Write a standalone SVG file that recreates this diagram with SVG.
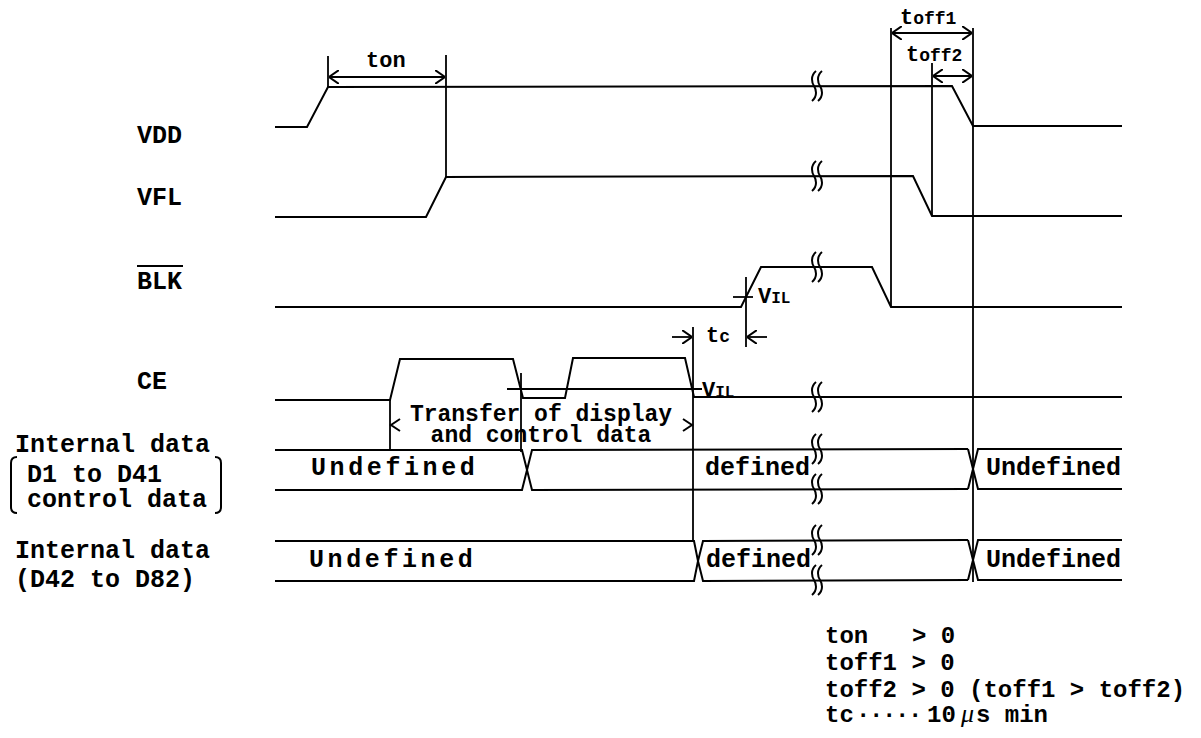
<svg xmlns="http://www.w3.org/2000/svg" width="1201" height="738" viewBox="0 0 1201 738">
<style>
.s{fill:none;stroke:#000;stroke-width:2;stroke-linejoin:miter}
.v{fill:none;stroke:#000;stroke-width:1.8}
.t{font-family:"Liberation Mono",monospace;font-weight:bold;font-size:25px;fill:#000}
.n{font-family:"Liberation Mono",monospace;font-weight:bold;font-size:24px;fill:#000}
.m{font-family:"Liberation Mono",monospace;font-weight:bold;font-size:23px;fill:#000}
.lb{font-family:"Liberation Mono",monospace;font-weight:bold;fill:#000}
</style>
<defs>
<marker id="ah" viewBox="0 0 10 14" refX="10" refY="7" markerWidth="10" markerHeight="14" markerUnits="userSpaceOnUse" orient="auto-start-reverse">
<path d="M0,0 L10,7 L0,14" fill="none" stroke="#000" stroke-width="2"/>
</marker>
<path id="brk" d="M-1,-15 C-7,-10 -5,-3 -3,0 C-1,3 1,10 -5,15 M5,-15 C-1,-10 1,-3 3,0 C5,3 7,10 1,15" fill="none" stroke="#000" stroke-width="2"/>
</defs>
<rect width="1201" height="738" fill="#fff"/>

<g id="labels">
<text class="t" x="137" y="143">VDD</text>
<text class="t" x="137" y="205">VFL</text>
<text class="t" x="137" y="289">BLK</text>
<line x1="137" y1="266" x2="183" y2="266" stroke="#000" stroke-width="2"/>
<text class="t" x="137" y="389">CE</text>
<text class="t" x="15" y="452">Internal data</text>
<text class="t" x="27" y="482">D1 to D41</text>
<text class="t" x="27" y="507">control data</text>
<path class="s" d="M17,457 Q11,457 11,463 L11,507 Q11,513 17,513"/>
<path class="s" d="M215,457 Q221,457 221,463 L221,507 Q221,513 215,513"/>
<text class="t" x="15" y="558">Internal data</text>
<text class="t" x="15" y="587">(D42 to D82)</text>
</g>

<g id="vdd">
<polyline class="s" points="275,127 307,127 328,87 952,86 973,126 1122,126"/>
<use href="#brk" x="817" y="86"/>
</g>

<g id="vfl">
<polyline class="s" points="275,217 426,217 446,177 913,176 932,216 1122,216"/>
<use href="#brk" x="817" y="176"/>
</g>

<g id="blk">
<polyline class="s" points="275,307 741,307 761,267 872,267 891,307 1122,307"/>
<use href="#brk" x="817" y="267"/>
</g>

<g id="ce">
<polyline class="s" points="275,400 390,400 400,359 513,359 523,398 565,398 573,358 685,358 694,397 1122,397"/>
<use href="#brk" x="817" y="397"/>
<line class="v" x1="507" y1="389" x2="702" y2="389"/>
</g>

<g id="data1">
<polyline class="s" points="275,450 522,450 527,470 522,490 275,490"/>
<polyline class="s" points="968,449 532,450 527,470 532,490 968,489"/>
<polyline class="s" points="1122,449 978,449 973,469 978,489 1122,489"/>
<path class="s" d="M968,449 L973,469 L968,489"/>
<use href="#brk" x="817" y="449"/>
<use href="#brk" x="817" y="489"/>
<text class="t" x="311" y="475" letter-spacing="3.6">Undefined</text>
<text class="t" x="705" y="475">defined</text>
<text class="t" x="986" y="475">Undefined</text>
</g>

<g id="data2">
<polyline class="s" points="275,541 694,541 698,561 694,581 275,581"/>
<polyline class="s" points="968,540 703,541 698,561 703,581 968,580"/>
<polyline class="s" points="1122,540 978,540 973,560 978,580 1122,580"/>
<path class="s" d="M968,540 L973,560 L968,580"/>
<use href="#brk" x="817" y="540"/>
<use href="#brk" x="817" y="580"/>
<text class="t" x="309" y="567" letter-spacing="3.6">Undefined</text>
<text class="t" x="706" y="567">defined</text>
<text class="t" x="986" y="567">Undefined</text>
</g>

<g id="connectors">
<line class="v" x1="328" y1="56" x2="328" y2="87"/>
<line class="v" x1="446" y1="55" x2="446" y2="177"/>
<line class="v" x1="891" y1="28" x2="891" y2="307"/>
<line class="v" x1="973" y1="28" x2="973" y2="582"/>
<line class="v" x1="932" y1="63" x2="932" y2="216"/>
<line class="v" x1="746" y1="277" x2="746" y2="347"/>
<line class="v" x1="733" y1="297" x2="753" y2="297"/>
<line class="v" x1="693" y1="327" x2="693" y2="541"/>
<line class="v" x1="390" y1="400" x2="390" y2="450"/>
<line class="v" x1="521" y1="373" x2="521" y2="452"/>
<line class="v" x1="329" y1="77" x2="445" y2="77" marker-start="url(#ah)" marker-end="url(#ah)"/>
<line class="v" x1="892" y1="33" x2="972" y2="33" marker-start="url(#ah)" marker-end="url(#ah)"/>
<line class="v" x1="933" y1="76" x2="972" y2="76" marker-start="url(#ah)" marker-end="url(#ah)"/>
<line class="v" x1="672" y1="337" x2="692" y2="337" marker-end="url(#ah)"/>
<line class="v" x1="767" y1="337" x2="747" y2="337" marker-end="url(#ah)"/>
<polyline class="s" points="400,419 391,425 400,431"/>
<polyline class="s" points="683,419 692,425 683,431"/>
</g>

<g id="timing-labels">
<text class="lb" x="366" y="67" font-size="22">ton</text>
<text class="lb" x="900" y="24" font-size="22">t<tspan font-size="18">off1</tspan></text>
<text class="lb" x="906" y="61" font-size="22">t<tspan font-size="18">off2</tspan></text>
<text class="lb" x="706" y="342" font-size="22">t<tspan font-size="18">c</tspan></text>
<text class="lb" x="758" y="303" font-size="22">V<tspan font-size="16">IL</tspan></text>
<text class="lb" x="702" y="397" font-size="22">V<tspan font-size="16">IL</tspan></text>
<text class="m" x="541" y="421" text-anchor="middle">Transfer of display</text>
<text class="m" x="541" y="442" text-anchor="middle">and control data</text>
</g>

<g id="notes">
<text class="n" x="825" y="643">ton<tspan x="912">&gt; 0</tspan></text>
<text class="n" x="825" y="670">toff1 &gt; 0</text>
<text class="n" x="825" y="697">toff2 &gt; 0 (toff1 &gt; toff2)</text>
<text class="n" x="825" y="722">tc<tspan x="856" letter-spacing="-1.4">·····</tspan><tspan x="927">10</tspan><tspan x="961" font-family="Liberation Serif, serif" font-style="italic" font-weight="normal" font-size="26">μ</tspan><tspan x="976">s min</tspan></text>
</g>
</svg>
